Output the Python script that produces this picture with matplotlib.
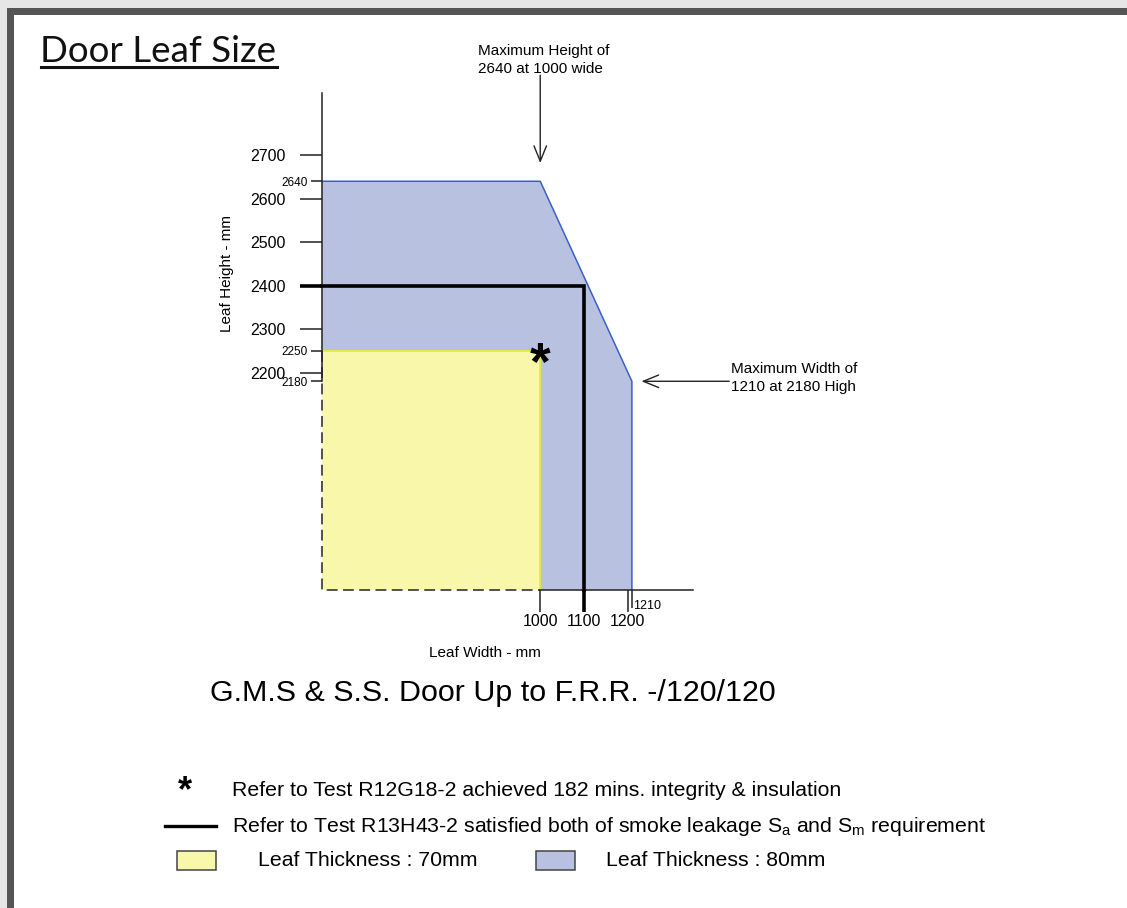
import numpy as np
import matplotlib
matplotlib.use('Agg')
import matplotlib.pyplot as plt
from matplotlib.patches import Rectangle

plt.rcParams['font.family'] = ['Liberation Sans', 'DejaVu Sans']

# axis origin of the drawing (values at the corner of the two axes)
x0, y0 = 500, 1700
x_top, y_top = 1350, 2843

# 80mm leaf envelope (width, height)
blue_w = [x0, x0, 1000, 1210, 1210]
blue_h = [y0, 2640, 2640, 2180, y0]

# 70mm leaf envelope
yellow_w = 1000
yellow_h = 2250

# smoke leakage test limit
smoke_w = 1100
smoke_h = 2400

y_major = [2200, 2300, 2400, 2500, 2600, 2700]
y_minor = [2180, 2250, 2640]
x_major = [1000, 1100, 1200]
x_minor = [1210]

c_blue = '#b9c1e1'
c_blue_edge = '#3b5fc6'
c_yellow = '#f9f7aa'
c_yellow_edge = '#efe83a'

fig = plt.figure(figsize=(11.27, 9.08), dpi=100)

# page overlay in pixel coords
pg = fig.add_axes([0, 0, 1, 1], zorder=0)
pg.set_xlim(0, 1127)
pg.set_ylim(908, 0)
pg.axis('off')

# frame
pg.add_patch(Rectangle((0, 0), 1127, 8, color='#e6e6e6', lw=0))
pg.add_patch(Rectangle((0, 0), 7, 908, color='#e6e6e6', lw=0))
pg.add_patch(Rectangle((7, 8), 1120, 7, color='#555555', lw=0))
pg.add_patch(Rectangle((7, 8), 7, 900, color='#555555', lw=0))

pg.text(40, 62, 'Door Leaf Size', fontsize=26.5, family='Lato', color='#111',
        ha='left', va='baseline')
pg.plot([41, 277], [66.5, 66.5], color='#111', lw=2.2)

# chart
ax = fig.add_axes([322 / 1127, (908 - 590) / 908, 371 / 1127, 497 / 908],
                  zorder=1)
ax.set_facecolor('none')
ax.set_xlim(x0, x_top)
ax.set_ylim(y0, y_top)
for s in ax.spines.values():
    s.set_visible(False)

ax.fill(blue_w, blue_h, color=c_blue, lw=0, zorder=1)
ax.plot(blue_w[1:], blue_h[1:], color=c_blue_edge, lw=1.1, zorder=2)
ax.fill([x0, x0, yellow_w, yellow_w], [y0, yellow_h, yellow_h, y0],
        color=c_yellow, lw=0, zorder=3)
ax.plot([x0, yellow_w, yellow_w], [yellow_h, yellow_h, y0],
        color=c_yellow_edge, lw=1.3, zorder=4)

# axis lines: dashed round the 70mm region, solid elsewhere
ax.plot([x0, x0, yellow_w], [yellow_h, y0, y0], color='#444', lw=1.3,
        dashes=(6, 3), zorder=5, clip_on=False)
ax.plot([x0, x0], [y_minor[0], y_top], color='#222', lw=1.1, zorder=6,
        clip_on=False)
ax.plot([yellow_w, x_top], [y0, y0], color='#222', lw=1.1, zorder=6,
        clip_on=False)

ax.plot([x0, smoke_w, smoke_w], [smoke_h, smoke_h, y0], color='black',
        lw=2.6, zorder=7, clip_on=False, solid_joinstyle='miter')

ax.text(yellow_w, yellow_h - 34, '*', fontsize=38, fontweight='bold',
        ha='center', va='center', zorder=8)

# ticks
ax.set_yticks(y_major)
ax.set_yticks(y_minor, minor=True)
ax.set_yticklabels([str(v) for v in y_major])
ax.set_yticklabels([str(v) for v in y_minor], minor=True)
ax.set_xticks(x_major)
ax.set_xticks(x_minor, minor=True)
ax.set_xticklabels([str(v) for v in x_major])
ax.tick_params(axis='y', which='major', length=16, width=1.1, pad=10,
               labelsize=11.5, color='#222')
ax.tick_params(axis='y', which='minor', length=8, width=1.1, pad=2,
               labelsize=8.5, color='#222')
ax.tick_params(axis='x', which='major', length=16, width=1.1, pad=1,
               labelsize=11.5, color='#222')
ax.tick_params(axis='x', which='minor', length=13, width=1.1, color='#222')
for t in ax.yaxis.get_major_ticks():
    if t.get_loc() == smoke_h:
        t.tick1line.set_markeredgewidth(2.6)
        t.tick1line.set_markeredgecolor('black')
for t in ax.xaxis.get_major_ticks():
    if t.get_loc() == smoke_w:
        t.tick1line.set_markeredgewidth(2.6)
        t.tick1line.set_markeredgecolor('black')
ax.text(x_minor[0] + 2, y0 - 37, str(x_minor[0]), fontsize=9,
        ha='left', va='center')

# arrows
ax.annotate('', xy=(1000, 2682), xytext=(1000, 2884),
            arrowprops=dict(arrowstyle='->,head_length=1.1,head_width=0.45',
                            lw=1, color='#222', shrinkA=0, shrinkB=0),
            annotation_clip=False)
ax.annotate('', xy=(1232, 2180), xytext=(1433, 2180),
            arrowprops=dict(arrowstyle='->,head_length=1.1,head_width=0.45',
                            lw=1, color='#222', shrinkA=0, shrinkB=0),
            annotation_clip=False)

pg.text(478, 60, 'Maximum Height of\n2640 at 1000 wide', fontsize=11,
        ha='left', va='center', linespacing=1.45)
pg.text(731, 378, 'Maximum Width of\n1210 at 2180 High', fontsize=11,
        ha='left', va='center', linespacing=1.45)

pg.text(227, 273, 'Leaf Height - mm', fontsize=11, rotation=90,
        ha='center', va='center')
pg.text(485, 653, 'Leaf Width - mm', fontsize=11, ha='center', va='center')

pg.text(493, 693, 'G.M.S & S.S. Door Up to F.R.R. -/120/120', fontsize=21.9,
        ha='center', va='center')

# key
pg.text(185, 792, '*', fontsize=26, fontweight='bold', ha='center',
        va='center')
pg.text(232, 791, 'Refer to Test R12G18-2 achieved 182 mins. integrity & insulation',
        fontsize=15.3, ha='left', va='center')
pg.plot([165, 216], [826, 826], color='black', lw=2.4)
pg.text(232, 826, r'Refer to Test R13H43-2 satisfied both of smoke leakage '
        r'S$\mathregular{_a}$ and S$\mathregular{_m}$ requirement',
        fontsize=15.3, ha='left', va='center')
pg.add_patch(Rectangle((177, 851), 39, 19, facecolor=c_yellow,
                       edgecolor='#444', lw=1.1))
pg.text(258, 861, 'Leaf Thickness : 70mm', fontsize=15.3, ha='left', va='center')
pg.add_patch(Rectangle((536, 851), 39, 19, facecolor=c_blue,
                       edgecolor='#444', lw=1.1))
pg.text(606, 861, 'Leaf Thickness : 80mm', fontsize=15.3, ha='left', va='center')

fig.savefig('out.png', dpi=100)
